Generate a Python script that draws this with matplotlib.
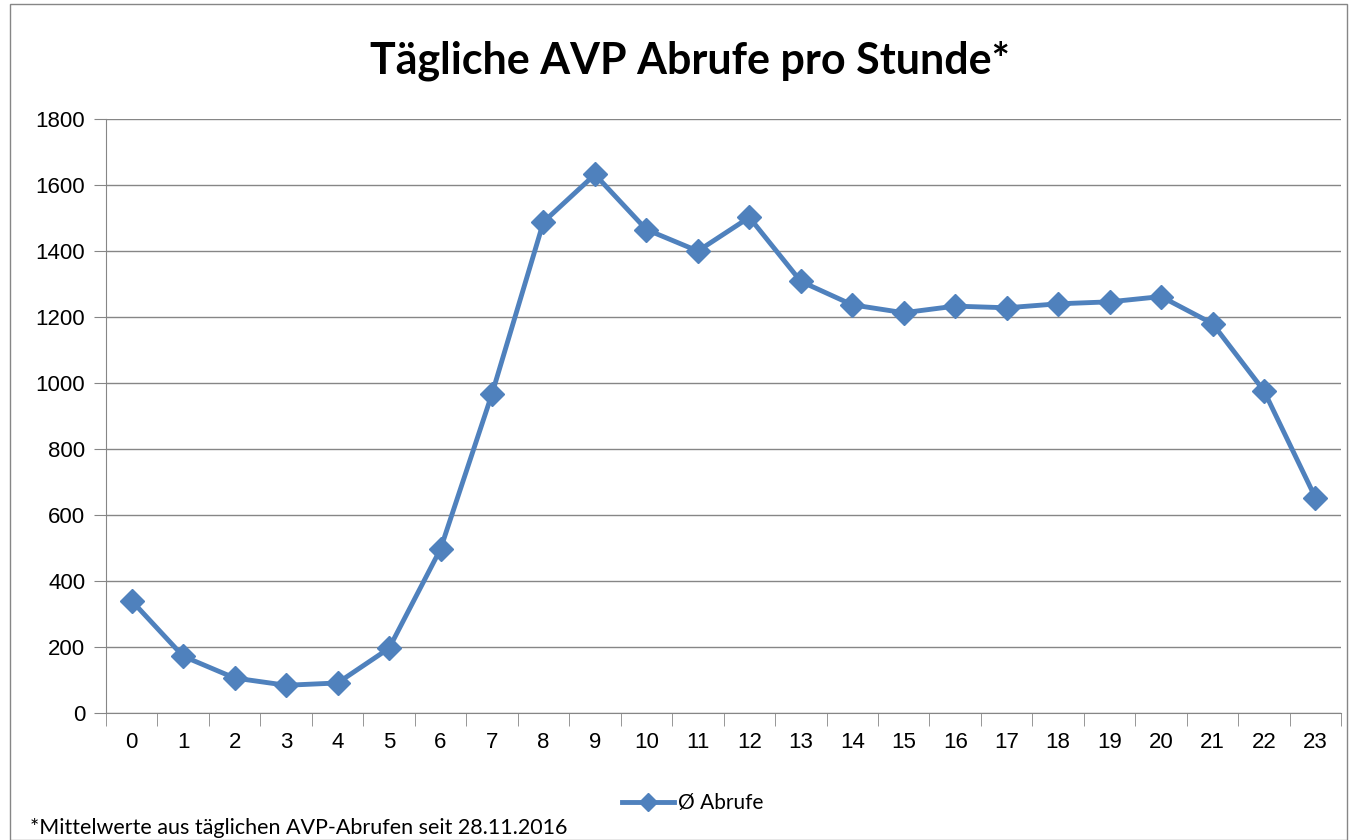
import matplotlib.pyplot as plt
from matplotlib.patches import Rectangle

# Stunden und mittlere Abrufe
stunden = list(range(24))
abrufe = [340, 172, 106, 84, 91, 196, 497, 967, 1488, 1632, 1465, 1400, 1502, 1308,
          1237, 1213, 1233, 1228, 1240, 1246, 1262, 1180, 976, 652]
y_ticks = [0, 200, 400, 600, 800, 1000, 1200, 1400, 1600, 1800]

titel = "Tägliche AVP Abrufe pro Stunde*"
legende = "Ø Abrufe"
fussnote = "*Mittelwerte aus täglichen AVP-Abrufen seit 28.11.2016"

blau = "#4F81BD"
grau = "#868686"

fig = plt.figure(figsize=(13.5, 8.4), dpi=100)
fig.patches.append(Rectangle((0.0075, 0.0), 0.99, 0.995, transform=fig.transFigure,
                             fill=False, edgecolor=grau, linewidth=1))

ax = fig.add_axes([0.0785, 0.1512, 0.915, 0.7071])
ax.plot(stunden, abrufe, color=blau, linewidth=3.5, marker="D", markersize=12,
        markerfacecolor=blau, markeredgecolor=blau, label=legende)

ax.set_xlim(-0.5, 23.5)
ax.set_ylim(0, 1800)
ax.set_yticks(y_ticks)
ax.set_xticks(stunden)
ax.set_xticks([i - 0.5 for i in range(25)], minor=True)
ax.tick_params(axis="x", which="major", length=0, pad=14, labelsize=16)
ax.tick_params(axis="x", which="minor", length=9, color=grau, direction="out")
ax.tick_params(axis="y", length=9, color=grau, direction="out", labelsize=16, pad=6)
for lab in ax.get_xticklabels() + ax.get_yticklabels():
    lab.set_fontfamily("Liberation Sans")

ax.grid(axis="y", color=grau, linewidth=1)
ax.set_axisbelow(True)
for s in ["top", "right"]:
    ax.spines[s].set_visible(False)
ax.spines["left"].set_color(grau)
ax.spines["bottom"].set_color(grau)

fig.text(0.511, 0.928, titel, ha="center", va="center", fontsize=31,
         fontweight="bold", fontfamily="Lato")

leg = fig.legend(loc="center", bbox_to_anchor=(0.513, 0.044), frameon=False,
                 prop={"family": "Lato", "size": 15}, handlelength=2.5, handletextpad=0.2,
                 markerscale=0.8)

fig.text(0.022, 0.014, fussnote, ha="left", va="center", fontsize=15.5, fontfamily="Lato")

fig.savefig("out.png", dpi=100)
